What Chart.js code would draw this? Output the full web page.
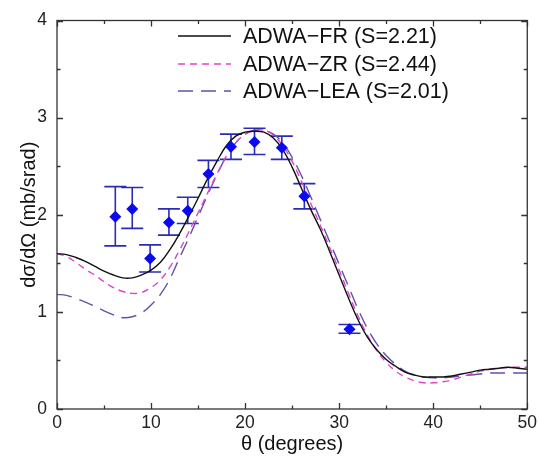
<!DOCTYPE html>
<html>
<head>
<meta charset="utf-8">
<script src="https://cdn.jsdelivr.net/npm/chart.js@4.4.1/dist/chart.umd.min.js"></script>
<style>
  html, body { margin: 0; padding: 0; background: #fff; }
  #chart { display: block; }
</style>
</head>
<body>
<canvas id="chart" width="541" height="456"></canvas>
<script>
// Angles de calcul (degrés)
const theta = [0, 1, 2, 3, 4, 5, 6, 7, 8, 9, 10, 11, 12, 13, 14, 15, 16, 17, 18, 19, 20,
    21, 22, 23, 24, 25, 26, 27, 28, 29, 30, 31, 32, 33, 34, 35, 36, 37, 38, 39, 40,
    41, 42, 43, 44, 45, 46, 47, 48, 49, 50];

// Courbes théoriques (mb/srad)
const sigmaFR = [1.60, 1.59, 1.56, 1.52, 1.47, 1.42, 1.38, 1.35, 1.35, 1.38, 1.43,
    1.51, 1.64, 1.80, 1.98, 2.17, 2.37, 2.55, 2.71, 2.81, 2.85, 2.86, 2.85, 2.79, 2.67,
    2.49, 2.27, 2.05, 1.85, 1.62, 1.38, 1.14, 0.92, 0.74, 0.61, 0.51, 0.44, 0.38, 0.35,
    0.33, 0.33, 0.33, 0.34, 0.36, 0.38, 0.40, 0.41, 0.42, 0.43, 0.42, 0.41];
const sigmaZR = [1.60, 1.57, 1.51, 1.44, 1.38, 1.31, 1.25, 1.21, 1.19, 1.20, 1.25,
    1.33, 1.46, 1.63, 1.82, 2.02, 2.22, 2.42, 2.60, 2.74, 2.83, 2.87, 2.87, 2.82, 2.71,
    2.55, 2.34, 2.11, 1.89, 1.66, 1.43, 1.19, 0.96, 0.76, 0.60, 0.48, 0.39, 0.33, 0.29,
    0.27, 0.27, 0.28, 0.30, 0.33, 0.36, 0.39, 0.41, 0.42, 0.43, 0.43, 0.43];
const sigmaLEA = [1.18, 1.17, 1.14, 1.10, 1.06, 1.01, 0.97, 0.94, 0.95, 0.99, 1.07,
    1.18, 1.34, 1.55, 1.76, 1.98, 2.20, 2.41, 2.60, 2.74, 2.83, 2.87, 2.87, 2.83, 2.74,
    2.59, 2.40, 2.18, 1.95, 1.72, 1.49, 1.26, 1.03, 0.83, 0.67, 0.55, 0.46, 0.39, 0.35,
    0.33, 0.32, 0.32, 0.33, 0.34, 0.35, 0.36, 0.37, 0.37, 0.37, 0.37, 0.37];

// Points expérimentaux avec barres d'erreur
const expTheta = [6.2, 8.0, 9.9, 11.9, 13.9, 16.1, 18.5, 21.0, 23.9, 26.3, 31.1];
const expSigma = [1.98, 2.06, 1.55, 1.92, 2.04, 2.42, 2.70, 2.75, 2.69, 2.19, 0.82];
const expLow = [1.68, 1.86, 1.41, 1.79, 1.91, 2.28, 2.57, 2.62, 2.57, 2.06, 0.78];
const expHigh = [2.29, 2.28, 1.69, 2.06, 2.18, 2.56, 2.83, 2.89, 2.81, 2.32, 0.87];

// Graduations
const xTicks = [0, 10, 20, 30, 40, 50];
const yTicks = [0, 1, 2, 3, 4];

const police = '"Liberation Sans", Arial, Helvetica, sans-serif';

// Fonction pour transformer deux tableaux en points {x, y}
function toPoints(xs, ys) {
    return xs.map((x, i) => ({ x: x, y: ys[i] }));
}

// Barres d'erreur dessinées sous les losanges
const errorBarsPlugin = {
    id: 'errorBars',
    beforeDatasetsDraw(chart) {
        const ctx = chart.ctx;
        const xs = chart.scales.x;
        const ys = chart.scales.y;
        ctx.save();
        ctx.strokeStyle = '#2b2bb8';
        ctx.lineWidth = 1.6;
        expTheta.forEach((t, i) => {
            const px = xs.getPixelForValue(t);
            const top = ys.getPixelForValue(expHigh[i]);
            const bot = ys.getPixelForValue(expLow[i]);
            ctx.beginPath();
            ctx.moveTo(px, top);
            ctx.lineTo(px, bot);
            ctx.moveTo(px - 11, top);
            ctx.lineTo(px + 11, top);
            ctx.moveTo(px - 11, bot);
            ctx.lineTo(px + 11, bot);
            ctx.stroke();
        });
        ctx.restore();
    }
};

// Cadre avec graduations vers l'intérieur (style gnuplot)
const framePlugin = {
    id: 'frame',
    afterDatasetsDraw(chart) {
        const ctx = chart.ctx;
        const a = chart.chartArea;
        const xs = chart.scales.x;
        const ys = chart.scales.y;
        ctx.save();
        ctx.strokeStyle = '#333';
        ctx.lineWidth = 1.3;
        ctx.beginPath();
        for (let v = 0; v <= 50; v += 5) {
            const px = Math.round(xs.getPixelForValue(v)) + 0.5;
            const len = v % 10 === 0 ? 6 : 3.5;
            ctx.moveTo(px, a.bottom);
            ctx.lineTo(px, a.bottom - len);
            ctx.moveTo(px, a.top);
            ctx.lineTo(px, a.top + len);
        }
        for (let v = 0; v <= 4; v += 0.5) {
            const py = Math.round(ys.getPixelForValue(v)) + 0.5;
            const len = v % 1 === 0 ? 6 : 3.5;
            ctx.moveTo(a.left, py);
            ctx.lineTo(a.left + len, py);
            ctx.moveTo(a.right, py);
            ctx.lineTo(a.right - len, py);
        }
        ctx.stroke();
        ctx.strokeRect(a.left, a.top, a.right - a.left, a.bottom - a.top);
        ctx.restore();
    }
};

// Légende à l'intérieur du graphique, en haut à droite
const legendPlugin = {
    id: 'insideLegend',
    afterDraw(chart) {
        const ctx = chart.ctx;
        const rows = [36, 64, 91];
        ctx.save();
        ctx.font = '21.5px ' + police;
        ctx.textBaseline = 'middle';
        ctx.fillStyle = '#111';
        chart.data.datasets.filter(d => d.showLine).forEach((d, i) => {
            const y = rows[i];
            ctx.strokeStyle = d.borderColor;
            ctx.lineWidth = d.borderWidth;
            ctx.setLineDash(d.borderDash || []);
            ctx.beginPath();
            ctx.moveTo(178, y);
            ctx.lineTo(231, y);
            ctx.stroke();
            ctx.setLineDash([]);
            ctx.fillText(d.label, 243, y + 1);
        });
        ctx.restore();
    }
};

const ctx = document.getElementById('chart').getContext('2d');
new Chart(ctx, {
    type: 'scatter',
    data: {
        datasets: [
            {
                label: 'Données',
                data: toPoints(expTheta, expSigma),
                showLine: false,
                pointStyle: 'rectRot',
                pointRadius: 6,
                backgroundColor: '#0a0af0',
                borderColor: '#0a0af0',
                borderWidth: 0,
                order: 0
            },
            {
                label: 'ADWA\u2212FR (S=2.21)',
                data: toPoints(theta, sigmaFR),
                showLine: true,
                borderColor: '#111111',
                borderWidth: 1.4,
                pointRadius: 0,
                tension: 0.4,
                order: 1
            },
            {
                label: 'ADWA\u2212ZR (S=2.44)',
                data: toPoints(theta, sigmaZR),
                showLine: true,
                borderColor: '#dd44cc',
                borderWidth: 1.4,
                borderDash: [7, 5],
                pointRadius: 0,
                tension: 0.4,
                order: 2
            },
            {
                label: 'ADWA\u2212LEA (S=2.01)',
                data: toPoints(theta, sigmaLEA),
                showLine: true,
                borderColor: '#6650a8',
                borderWidth: 1.4,
                borderDash: [15, 8],
                pointRadius: 0,
                tension: 0.4,
                order: 3
            }
        ]
    },
    options: {
        responsive: false,
        animation: false,
        events: [],
        layout: { padding: { top: 16, right: 11, left: 0, bottom: 0 } },
        plugins: {
            legend: { display: false },
            tooltip: { enabled: false }
        },
        scales: {
            x: {
                type: 'linear',
                min: 0,
                max: 50,
                afterFit: s => { s.height = 47; },
                afterBuildTicks: s => { s.ticks = xTicks.map(v => ({ value: v })); },
                grid: { display: false, drawTicks: false },
                border: { display: false },
                ticks: { padding: 4, color: '#222', font: { family: police, size: 17.5 } },
                title: {
                    display: true,
                    text: '\u03b8 (degrees)',
                    color: '#111',
                    font: { family: police, size: 20 },
                    padding: { top: 0, bottom: 0 }
                }
            },
            y: {
                type: 'linear',
                min: 0,
                max: 4,
                afterFit: s => { s.width = 57; },
                afterBuildTicks: s => { s.ticks = yTicks.map(v => ({ value: v })); },
                grid: { display: false, drawTicks: false },
                border: { display: false },
                ticks: { padding: 10, color: '#222', font: { family: police, size: 17.5 } },
                title: {
                    display: true,
                    text: 'd\u03c3/d\u03a9 (mb/srad)',
                    color: '#111',
                    font: { family: police, size: 20 },
                    padding: { top: 17, bottom: 0 }
                }
            }
        }
    },
    plugins: [errorBarsPlugin, framePlugin, legendPlugin]
});
</script>
</body>
</html>
